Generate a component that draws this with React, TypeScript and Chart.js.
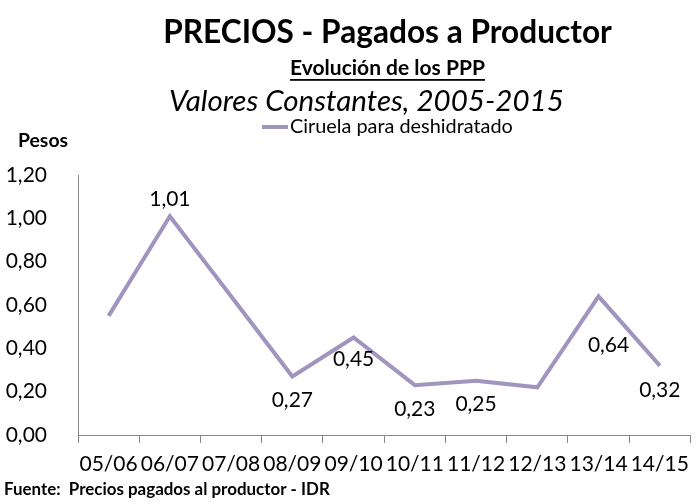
import React, { useEffect, useRef } from "react";
import { Chart, registerables } from "chart.js";

Chart.register(...registerables);

const CATEGORIES = ["05/06", "06/07", "07/08", "08/09", "09/10", "10/11", "11/12", "12/13", "13/14", "14/15"];
const SERIES_NAME = "Ciruela para deshidratado";
const VALUES = [0.55, 1.01, 0.64, 0.27, 0.45, 0.23, 0.25, 0.22, 0.64, 0.32];
const Y_MIN = 0;
const Y_MAX = 1.2;
const Y_STEP = 0.2;

const TITLE = "PRECIOS - Pagados a Productor";
const SUBTITLE = "Evolución de los PPP";
const SUBTITLE2 = "Valores Constantes, 2005-2015";
const Y_TITLE = "Pesos";
const SOURCE = "Fuente:  Precios pagados al productor - IDR";

// label placement (style): [dx, dy] offsets from the point, null = not shown
const LABEL_POS: ([number, number] | null)[] = [
  null, [0, -17], null, [0, 24], [0, 22], [0, 24], [0, 23], null, [10, 49], [0, 25],
];

const FONT = "Lato, 'Noto Sans', sans-serif";
const LINE_COLOR = "#A194BF";
const AXIS_COLOR = "#868686";

const fmt = (v: number) => v.toFixed(2).replace(".", ",");

function fitText(ctx: CanvasRenderingContext2D, text: string, style: string, width: number) {
  ctx.font = `${style} 20px ${FONT}`;
  const w = ctx.measureText(text).width;
  const size = (20 * width) / w;
  return `${style} ${size.toFixed(2)}px ${FONT}`;
}

const textPlugin = {
  id: "texts",
  afterDraw(chart: any) {
    const ctx: CanvasRenderingContext2D = chart.ctx;
    ctx.save();
    ctx.fillStyle = "#000";
    ctx.textBaseline = "middle";

    const center = (text: string, style: string, width: number, cx: number, cy: number, underline = false) => {
      ctx.font = fitText(ctx, text, style, width);
      ctx.textAlign = "center";
      ctx.fillText(text, cx, cy);
      if (underline) {
        const w = ctx.measureText(text).width;
        ctx.fillRect(cx - w / 2, cy + 11, w, 1.8);
      }
    };
    const left = (text: string, style: string, width: number, x: number, cy: number) => {
      ctx.font = fitText(ctx, text, style, width);
      ctx.textAlign = "left";
      ctx.fillText(text, x, cy);
    };

    center(TITLE, "bold", 449, 387.5, 33);
    center(SUBTITLE, "bold", 195, 387.5, 68, true);
    center(SUBTITLE2, "italic", 395, 366.5, 101);
    left(Y_TITLE, "bold", 50, 18, 141);
    left(SOURCE, "bold", 326, 4, 490);

    // legend
    const ds = chart.data.datasets[0];
    ctx.strokeStyle = ds.borderColor;
    ctx.lineWidth = 4;
    ctx.beginPath();
    ctx.moveTo(262, 127);
    ctx.lineTo(288, 127);
    ctx.stroke();
    left(ds.label, "normal", 223, 290, 127);

    // data labels
    const meta = chart.getDatasetMeta(0);
    ctx.font = `normal 21px ${FONT}`;
    ctx.textAlign = "center";
    meta.data.forEach((pt: any, i: number) => {
      const p = LABEL_POS[i];
      if (!p) return;
      ctx.fillText(fmt(ds.data[i]), pt.x + p[0], pt.y + p[1]);
    });
    ctx.restore();
  },
};

export default function App() {
  const ref = useRef<HTMLCanvasElement>(null);
  useEffect(() => {
    if (!ref.current) return;
    const chart = new Chart(ref.current, {
      type: "line",
      data: {
        labels: CATEGORIES,
        datasets: [
          {
            label: SERIES_NAME,
            data: VALUES,
            borderColor: LINE_COLOR,
            backgroundColor: LINE_COLOR,
            borderWidth: 4,
            pointRadius: 0,
            tension: 0,
          },
        ],
      },
      options: {
        responsive: false,
        animation: false,
        layout: { padding: { top: 175, right: 2, bottom: 0, left: 0 } },
        plugins: { legend: { display: false }, title: { display: false }, tooltip: { enabled: false } },
        scales: {
          x: {
            offset: true,
            grid: { display: true, drawOnChartArea: false, drawTicks: true, tickLength: 8, color: AXIS_COLOR, offset: true },
            border: { display: true, color: AXIS_COLOR, width: 1 },
            ticks: { color: "#000", font: { family: FONT, size: 21 }, padding: 9, maxRotation: 0, autoSkip: false },
            afterFit: (s: any) => { s.height = 69; },
          },
          y: {
            min: Y_MIN,
            max: Y_MAX,
            grid: { display: false },
            border: { display: true, color: AXIS_COLOR, width: 1 },
            ticks: { stepSize: Y_STEP, color: "#000", font: { family: FONT, size: 21 }, padding: 23, callback: (v: any) => fmt(Number(v)) },
            afterFit: (s: any) => { s.width = 78; },
          },
        },
      },
      plugins: [textPlugin],
    });
    return () => chart.destroy();
  }, []);
  return (
    <div style={{ position: "fixed", left: 0, top: 0, width: 698, height: 504, background: "#fff" }}>
      <canvas ref={ref} width={698} height={504} />
    </div>
  );
}
